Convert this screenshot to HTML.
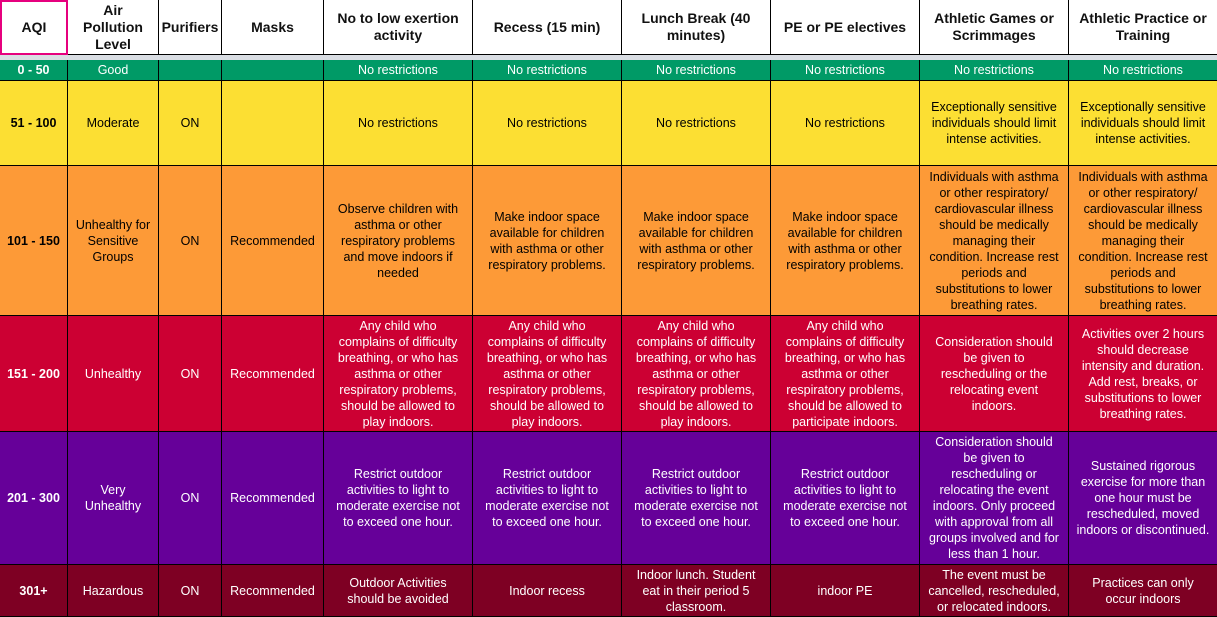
<!DOCTYPE html><html><head><meta charset="utf-8"><style>
body{margin:0;width:1217px;height:617px;overflow:hidden;background:#fff;font-family:"Liberation Sans",sans-serif;}
.c{position:absolute;box-sizing:border-box;display:flex;align-items:center;justify-content:center;text-align:center;font-size:12.5px;line-height:16px;border-right:1px solid #000;border-bottom:1px solid #000;padding:0 7px;}
.h{font-size:14px;font-weight:bold;color:#111;line-height:17px;padding:0 3px;}
.w{color:#fff}
</style></head><body>
<div style="position:absolute;left:0;top:55px;width:1217px;height:5px;background:#d9dde3"></div>
<div id="t"></div>
<script>
const xs=[0,68,159,222,324,473,622,771,920,1069,1217];
const rows=[
{y:0,h:55,bg:'#fff',cls:'h',cells:['AQI','Air<br>Pollution<br>Level','Purifiers','Masks','No to low exertion activity','Recess (15 min)','Lunch Break (40 minutes)','PE or PE electives','Athletic Games or Scrimmages','Athletic Practice or Training']},
{y:60,h:21,bg:'#009a66',cls:'w',cells:['<b>0 - 50</b>','Good','','','No restrictions','No restrictions','No restrictions','No restrictions','No restrictions','No restrictions']},
{y:81,h:85,bg:'#fcdf33',cls:'',cells:['<b>51 - 100</b>','Moderate','ON','','No restrictions','No restrictions','No restrictions','No restrictions','Exceptionally sensitive individuals should limit intense activities.','Exceptionally sensitive individuals should limit intense activities.']},
{y:166,h:150,bg:'#fd9a37',cls:'',cells:['<b>101 - 150</b>','Unhealthy for Sensitive Groups','ON','Recommended','Observe children with asthma or other respiratory problems and move indoors if needed','Make indoor space available for children with asthma or other respiratory problems.','Make indoor space available for children with asthma or other respiratory problems.','Make indoor space available for children with asthma or other respiratory problems.','Individuals with asthma or other respiratory/ cardiovascular illness should be medically managing their condition. Increase rest periods and substitutions to lower breathing rates.','Individuals with asthma or other respiratory/ cardiovascular illness should be medically managing their condition. Increase rest periods and substitutions to lower breathing rates.']},
{y:316,h:116,bg:'#cc0033',cls:'w',cells:['<b>151 - 200</b>','Unhealthy','ON','Recommended','Any child who complains of difficulty breathing, or who has asthma or other respiratory problems, should be allowed to play indoors.','Any child who complains of difficulty breathing, or who has asthma or other respiratory problems, should be allowed to play indoors.','Any child who complains of difficulty breathing, or who has asthma or other respiratory problems, should be allowed to play indoors.','Any child who complains of difficulty breathing, or who has asthma or other respiratory problems, should be allowed to participate indoors.','Consideration should be given to rescheduling or the relocating event indoors.','Activities over 2 hours should decrease intensity and duration. Add rest, breaks, or substitutions to lower breathing rates.']},
{y:432,h:133,bg:'#660099',cls:'w',cells:['<b>201 - 300</b>','Very<br>Unhealthy','ON','Recommended','Restrict outdoor activities to light to moderate exercise not to exceed one hour.','Restrict outdoor activities to light to moderate exercise not to exceed one hour.','Restrict outdoor activities to light to moderate exercise not to exceed one hour.','Restrict outdoor activities to light to moderate exercise not to exceed one hour.','Consideration should be given to rescheduling or relocating the event indoors. Only proceed with approval from all groups involved and for less than 1 hour.','Sustained rigorous exercise for more than one hour must be rescheduled, moved indoors or discontinued.']},
{y:565,h:52,bg:'#7e0023',cls:'w',cells:['<b>301+</b>','Hazardous','ON','Recommended','Outdoor Activities should be avoided','Indoor recess','Indoor lunch. Student eat in their period 5 classroom.','indoor PE','The event must be cancelled, rescheduled, or relocated indoors.','Practices can only occur indoors']}
];
let s='';
rows.forEach((r,ri)=>{r.cells.forEach((t,i)=>{
let st=`left:${xs[i]}px;top:${r.y}px;width:${xs[i+1]-xs[i]}px;height:${r.h}px;background:${r.bg};`;
if(i==9)st+='border-right:none;';
if(i<4)st+='padding:0 2px;';
if(ri==0&&i==0)st+='border:2px solid #e6007e;';
s+=`<div class="c ${r.cls}" style="${st}">${t}</div>`;});});
document.getElementById('t').innerHTML=s;
</script>
</body></html>
